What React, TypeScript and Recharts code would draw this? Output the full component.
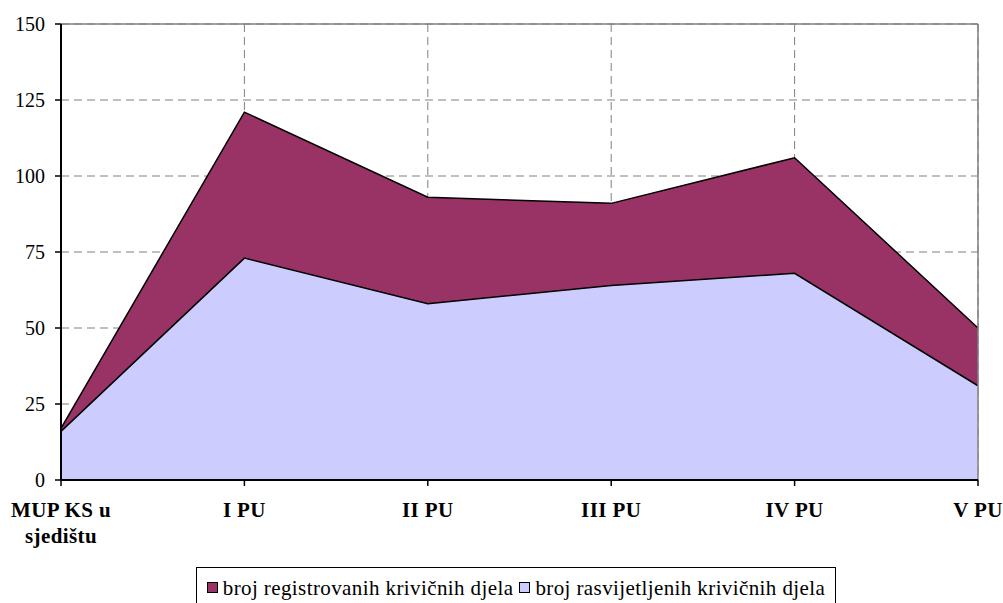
import { AreaChart, Area, XAxis, YAxis, CartesianGrid, ReferenceLine } from "recharts";

const categories = ["MUP KS u\nsjedištu", "I PU", "II PU", "III PU", "IV PU", "V PU"];
const registrovana = [17, 121, 93, 91, 106, 50];
const rasvijetljena = [16, 73, 58, 64, 68, 31];
const yTicks = [0, 25, 50, 75, 100, 125, 150];

const seriesNames = ["broj registrovanih krivičnih djela", "broj rasvijetljenih krivičnih djela"];
const seriesColors = ["#993366", "#CCCCFF"];

const data = categories.map((name, i) => ({
  name,
  reg: registrovana[i],
  ras: rasvijetljena[i],
}));

const FONT = "'Liberation Serif', 'Times New Roman', serif";

function CategoryTick({ x, y, payload }: any) {
  const lines = String(payload.value).split("\n");
  return (
    <text
      x={x}
      y={y}
      textAnchor="middle"
      fontFamily={FONT}
      fontWeight="bold"
      fontSize={21}
      letterSpacing={0.4}
      fill="#000"
    >
      {lines.map((l, i) => (
        <tspan key={i} x={x} dy={i === 0 ? 29 : 26}>
          {l}
        </tspan>
      ))}
    </text>
  );
}

export default function App() {
  return (
    <div
      style={{
        position: "absolute",
        left: 0,
        top: 0,
        width: 1003,
        height: 603,
        overflow: "hidden",
        background: "#fff",
      }}
    >
      <AreaChart
        width={1003}
        height={603}
        data={data}
        margin={{ top: 24, right: 25, left: 0, bottom: 58 }}
      >
        <CartesianGrid stroke="#808080" strokeDasharray="8 5" />
        <ReferenceLine y={150} stroke="#808080" strokeWidth={1.5} />
        <ReferenceLine x="V PU" stroke="#808080" strokeWidth={1.5} />
        <XAxis
          dataKey="name"
          interval={0}
          height={65}
          tick={<CategoryTick />}
          tickSize={6}
          axisLine={{ stroke: "#000", strokeWidth: 2 }}
          tickLine={{ stroke: "#000", strokeWidth: 1.5 }}
        />
        <YAxis
          width={61}
          domain={[0, 150]}
          ticks={yTicks}
          tickSize={6}
          tickMargin={10}
          axisLine={{ stroke: "#000", strokeWidth: 2 }}
          tickLine={{ stroke: "#000", strokeWidth: 1.5 }}
          tick={{ fill: "#000", fontSize: 20, fontFamily: FONT }}
        />
        <Area
          type="linear"
          dataKey="reg"
          name={seriesNames[0]}
          stroke="#000"
          strokeWidth={1.5}
          fill={seriesColors[0]}
          fillOpacity={1}
          isAnimationActive={false}
        />
        <Area
          type="linear"
          dataKey="ras"
          name={seriesNames[1]}
          stroke="#000"
          strokeWidth={1.5}
          fill={seriesColors[1]}
          fillOpacity={1}
          isAnimationActive={false}
        />
      </AreaChart>
      <div
        style={{
          position: "absolute",
          left: 196,
          top: 567,
          width: 640,
          height: 45,
          boxSizing: "border-box",
          paddingTop: 8,
          border: "1px solid #000",
          display: "flex",
          alignItems: "flex-start",
          justifyContent: "center",
          fontFamily: FONT,
          fontSize: 21,
          lineHeight: "24px",
          letterSpacing: 0.4,
          color: "#000",
          whiteSpace: "nowrap",
        }}
      >
        {seriesNames.map((n, i) => (
          <span key={n} style={{ display: "flex", alignItems: "flex-start", marginRight: i === 0 ? 6 : 0 }}>
            <span
              style={{
                width: 9,
                height: 9,
                marginTop: 6,
                background: seriesColors[i],
                border: "1px solid #000",
                marginRight: 5,
              }}
            />
            {n}
          </span>
        ))}
      </div>
    </div>
  );
}
